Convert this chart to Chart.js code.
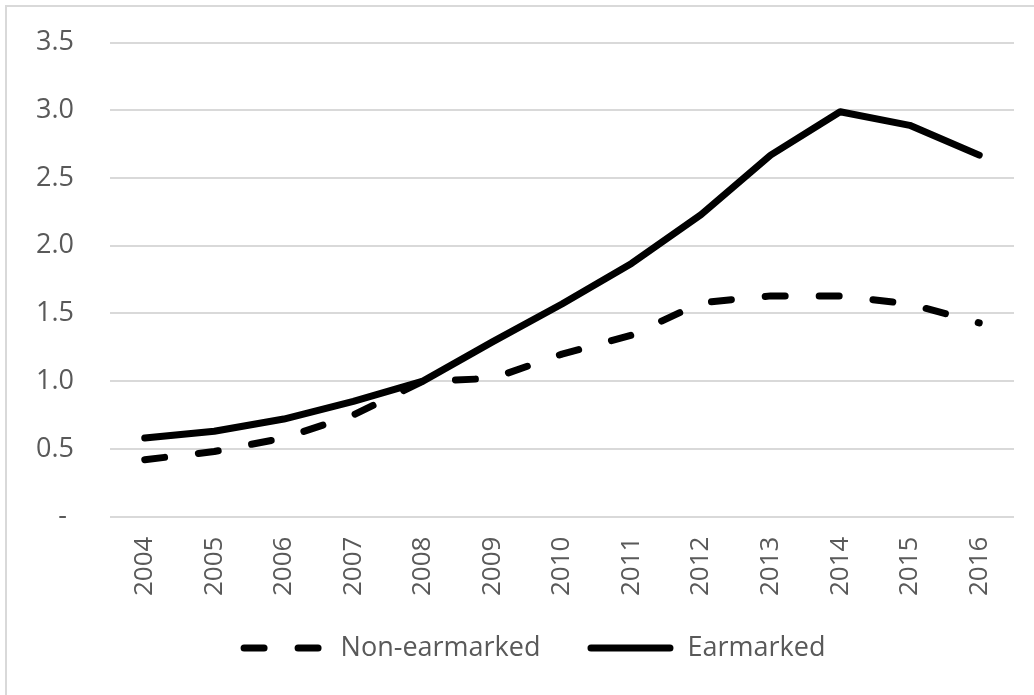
<!DOCTYPE html>
<html>
<head>
<meta charset="utf-8">
<script src="https://cdn.jsdelivr.net/npm/chart.js@4/dist/chart.umd.min.js"></script>
<style>
  html, body { margin: 0; padding: 0; background: #fff; overflow: hidden; }
  #frame {
    position: absolute; left: 5px; top: 5px; width: 1100px; height: 760px;
    border-left: 2px solid #d9d9d9; border-top: 2px solid #d9d9d9;
  }
  #wrap { position: absolute; left: 0; top: 0; width: 1034px; height: 695px; }
</style>
</head>
<body>
<div id="frame"></div>
<div id="wrap"><canvas id="chart" width="1034" height="695"></canvas></div>
<script>
// Years on the category axis
const years = ['2004', '2005', '2006', '2007', '2008', '2009', '2010',
               '2011', '2012', '2013', '2014', '2015', '2016'];

// Series values
const nonEarmarked = [0.42, 0.48, 0.58, 0.75, 1.00, 1.02, 1.20, 1.34, 1.58, 1.63, 1.63, 1.57, 1.43];
const earmarked    = [0.58, 0.63, 0.72, 0.85, 1.00, 1.29, 1.57, 1.87, 2.23, 2.67, 2.99, 2.89, 2.67];

// Value axis ticks
const yTicks = [0, 0.5, 1.0, 1.5, 2.0, 2.5, 3.0, 3.5];

const grey = '#595959';
const gridGrey = '#d9d9d9';
const LINE_W = 7;

// Legend row under the axis: line sample followed by the series name
const lineLegend = {
  id: 'lineLegend',
  afterDraw(chart, args, opts) {
    const ctx = chart.ctx;
    const font = `${opts.fontSize}px ${opts.fontFamily}`;
    ctx.save();
    ctx.font = font;
    const items = chart.data.datasets.map(ds => ({
      ds,
      textW: ctx.measureText(ds.label).width
    }));
    const total = items.reduce((s, it) => s + opts.sampleLen + opts.textGap + it.textW, 0)
                + opts.itemGap * (items.length - 1);
    let x = opts.centerX - total / 2;
    const y = opts.centerY;
    items.forEach(({ ds, textW }) => {
      const half = ds.borderWidth / 2;
      ctx.beginPath();
      ctx.lineWidth = ds.borderWidth;
      ctx.strokeStyle = ds.borderColor;
      ctx.lineCap = 'round';
      ctx.setLineDash(ds.borderDash || []);
      ctx.moveTo(x + half, y);
      ctx.lineTo(x + opts.sampleLen - half, y);
      ctx.stroke();
      ctx.setLineDash([]);
      x += opts.sampleLen + opts.textGap;
      ctx.fillStyle = opts.color;
      ctx.textBaseline = 'middle';
      ctx.textAlign = 'left';
      ctx.fillText(ds.label, x, y);
      x += textW + opts.itemGap;
    });
    ctx.restore();
  }
};

new Chart(document.getElementById('chart'), {
  type: 'line',
  data: {
    labels: years,
    datasets: [
      {
        label: 'Non-earmarked',
        data: nonEarmarked,
        borderColor: '#000',
        backgroundColor: '#000',
        borderWidth: LINE_W,
        borderDash: [20, 34],
        borderCapStyle: 'round',
        borderJoinStyle: 'round',
        pointRadius: 0,
        tension: 0
      },
      {
        label: 'Earmarked',
        data: earmarked,
        borderColor: '#000',
        backgroundColor: '#000',
        borderWidth: LINE_W,
        borderCapStyle: 'round',
        borderJoinStyle: 'round',
        pointRadius: 0,
        tension: 0
      }
    ]
  },
  plugins: [lineLegend],
  options: {
    responsive: false,
    devicePixelRatio: 1,
    animation: false,
    layout: { padding: { top: 12, right: 20, bottom: 79, left: 0 } },
    plugins: {
      tooltip: { enabled: false },
      legend: { display: false },
      lineLegend: {
        centerX: 533,
        centerY: 648,
        sampleLen: 86,
        textGap: 14,
        itemGap: 47,
        fontSize: 27,
        fontFamily: "'Open Sans'",
        color: grey
      }
    },
    scales: {
      x: {
        offset: true,
        grid: { display: false, drawTicks: false },
        border: { display: false },
        ticks: {
          color: grey,
          font: { family: 'Open Sans', size: 26 },
          minRotation: 90,
          maxRotation: 90,
          padding: 20,
          autoSkip: false
        }
      },
      y: {
        min: 0,
        max: 3.5,
        afterBuildTicks: axis => { axis.ticks = yTicks.map(v => ({ value: v })); },
        grid: { color: gridGrey, lineWidth: 2, drawTicks: false },
        border: { display: false },
        ticks: {
          color: grey,
          font: { family: 'Open Sans', size: 27, lineHeight: 0.5 },
          padding: 36,
          // zero is shown as a dash, in accounting style
          callback: v => (v === 0 ? '- ' : Number(v).toFixed(1))
        }
      }
    }
  }
});
</script>
</body>
</html>
